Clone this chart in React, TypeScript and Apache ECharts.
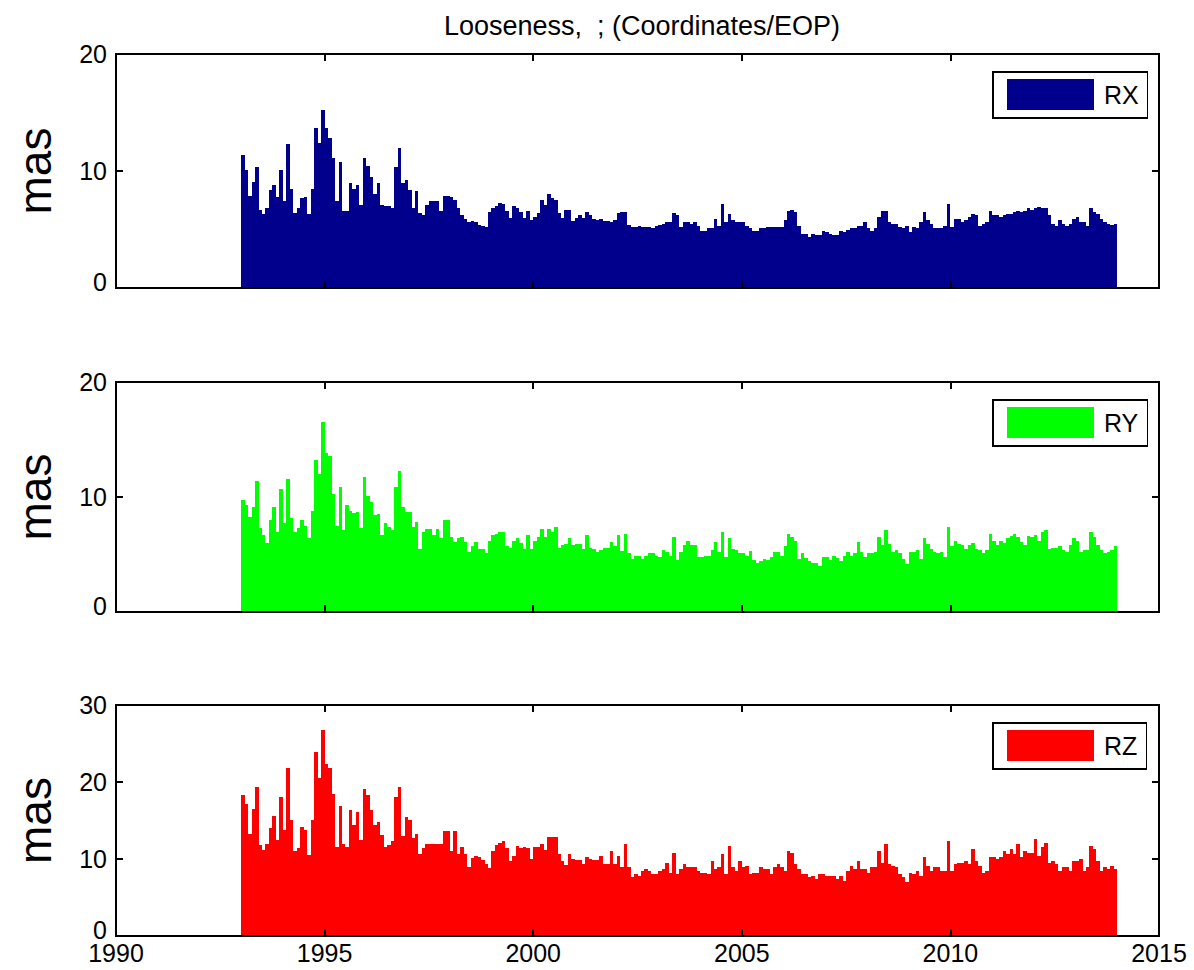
import { useEffect, useRef } from "react";
import * as echarts from "echarts";

// Monthly looseness values (mas), first bar centred in January 1993
const START_YEAR = 1993;
const STEP = 1 / 12;

const RX = [
  11.4, 10.1, 7.9, 9.1, 10.3, 6.7, 6.3, 6.8, 8.4, 8.8,
  7.8, 10.1, 7.4, 12.3, 8.5, 6.4, 6.8, 7.7, 7.8, 6.3,
  8.5, 13.7, 12.4, 15.2, 13.7, 12.8, 11.1, 7.4, 10.8, 6.6,
  6.6, 9.0, 8.5, 8.8, 7.1, 11.1, 10.4, 9.5, 8.0, 9.0,
  7.1, 7.0, 7.0, 6.8, 10.3, 12.0, 9.0, 9.2, 8.4, 6.8,
  8.3, 6.4, 6.2, 7.1, 7.4, 7.4, 7.4, 6.6, 7.9, 7.9,
  7.8, 7.5, 6.8, 6.2, 5.9, 5.6, 5.7, 5.6, 5.4, 5.3,
  5.2, 6.5, 6.8, 7.0, 7.3, 7.2, 6.6, 6.0, 7.0, 6.8,
  6.5, 6.0, 6.6, 5.8, 6.1, 6.4, 7.5, 7.1, 8.0, 7.7,
  7.5, 6.4, 6.0, 6.7, 6.7, 5.7, 6.0, 6.2, 6.0, 6.5,
  6.2, 5.9, 5.8, 5.9, 5.7, 5.7, 5.6, 5.8, 6.4,
  6.5, 6.5, 5.4, 5.2, 5.2, 5.3, 5.2, 5.2, 5.2, 5.1, 5.3,
  5.4, 5.5, 5.6, 5.6, 6.4, 6.2, 5.2, 5.6, 5.6, 5.5,
  5.6, 5.3, 4.9, 4.9, 5.1, 5.1, 5.9, 5.3, 7.2, 5.6,
  6.3, 5.8, 5.6, 5.6, 5.6, 5.3, 5.1, 4.9, 4.9, 5.1,
  5.1, 5.2, 5.2, 5.2, 5.2, 5.2, 5.8, 6.6, 6.7, 6.5,
  5.3, 4.6, 4.6, 4.4, 4.6, 4.5, 4.5, 4.9, 4.8, 4.6,
  4.5, 4.5, 4.9, 4.8, 5.0, 5.1, 5.1, 5.3, 5.3, 5.6,
  5.1, 4.9, 5.1, 6.1, 6.6, 6.6, 5.6, 5.5, 5.5, 5.2,
  5.1, 5.3, 4.8, 5.2, 5.1, 5.6, 6.5, 5.8, 5.5, 5.1,
  5.1, 5.1, 5.3, 7.2, 5.2, 5.9, 5.9, 5.6, 5.8, 6.1,
  6.3, 6.2, 5.3, 5.5, 5.6, 6.6, 6.2, 6.2, 6.1, 6.2,
  6.3, 6.3, 6.5, 6.6, 6.5, 6.6, 6.8, 6.7, 6.8, 6.9,
  6.8, 6.8, 6.2, 5.5, 5.3, 5.8, 5.5, 5.3, 5.5, 5.9,
  6.1, 5.6, 5.6, 5.3, 6.8, 6.5, 6.3, 5.9, 5.6, 5.5,
  5.4, 5.5,
];

const RY = [
  9.7, 9.3, 8.3, 9.1, 11.4, 7.3, 6.7, 6.0, 8.0, 9.1,
  7.0, 10.7, 7.7, 11.6, 8.2, 7.0, 7.3, 8.0, 7.5, 6.4,
  8.8, 13.2, 12.0, 16.5, 13.8, 13.6, 10.3, 7.5, 10.9, 7.1,
  9.3, 8.8, 8.6, 8.7, 7.3, 11.7, 10.1, 9.6, 8.4, 8.5,
  6.7, 7.7, 7.4, 7.1, 10.9, 12.3, 9.1, 8.7, 8.7, 7.4,
  7.8, 5.5, 7.0, 7.2, 7.2, 6.7, 7.2, 6.4, 8.0, 8.0,
  6.5, 6.1, 6.4, 6.5, 6.1, 5.2, 5.7, 6.1, 5.5, 5.5,
  5.1, 6.2, 6.7, 6.8, 7.0, 7.0, 5.7, 5.6, 6.2, 6.4,
  6.0, 5.5, 6.7, 5.5, 6.2, 6.5, 7.2, 6.5, 7.2, 7.0,
  7.4, 5.6, 5.8, 5.9, 6.4, 5.8, 5.9, 5.9, 5.5, 6.7,
  5.6, 5.5, 5.2, 5.4, 5.6, 5.6, 6.1, 5.7, 6.7,
  5.3, 6.8, 5.1, 4.6, 4.9, 4.9, 4.6, 4.9, 5.1, 5.1, 4.9,
  4.8, 5.4, 5.2, 4.9, 6.5, 4.5, 5.2, 5.8, 6.2, 5.8,
  5.8, 4.8, 4.8, 4.9, 4.9, 5.4, 6.1, 5.2, 7.0, 4.8,
  6.4, 5.5, 5.4, 5.1, 5.1, 4.9, 5.3, 4.5, 4.3, 4.4,
  4.6, 4.5, 4.8, 5.2, 5.2, 4.9, 5.7, 6.8, 6.5, 6.2,
  4.6, 5.1, 4.7, 4.4, 4.3, 4.3, 4.0, 4.8, 4.8, 4.5,
  4.9, 4.7, 4.4, 4.9, 5.2, 4.9, 5.1, 6.1, 5.2, 4.8,
  5.1, 5.1, 5.2, 6.5, 5.8, 7.1, 5.9, 5.2, 5.4, 5.1,
  4.6, 4.2, 5.2, 5.2, 5.4, 4.6, 6.4, 5.9, 5.5, 5.2,
  5.1, 5.2, 4.8, 7.4, 5.7, 6.2, 5.9, 5.8, 5.5, 5.8,
  6.0, 5.5, 5.4, 5.1, 5.4, 6.8, 6.2, 5.8, 6.2, 6.0,
  6.4, 6.6, 6.8, 6.5, 6.1, 5.8, 6.6, 6.5, 6.7, 6.2,
  7.0, 7.1, 5.5, 5.6, 5.6, 5.7, 5.4, 5.2, 5.8, 6.4,
  6.2, 5.2, 5.4, 5.4, 7.0, 6.5, 5.8, 5.4, 5.1, 5.2,
  5.4, 5.7,
];

const RZ = [
  18.3, 17.2, 13.3, 16.5, 19.4, 11.8, 11.2, 12.0, 14.0, 15.6,
  12.5, 18.0, 13.8, 21.8, 15.1, 11.0, 11.4, 14.2, 13.8, 10.5,
  15.1, 23.9, 20.5, 26.8, 22.4, 21.8, 18.5, 11.6, 16.9, 12.0,
  11.6, 16.4, 14.4, 16.1, 12.5, 19.1, 18.3, 16.4, 14.4, 14.8,
  13.1, 11.6, 11.8, 12.4, 18.0, 19.4, 13.0, 15.5, 15.1, 12.7,
  13.3, 10.7, 11.4, 11.9, 11.9, 11.9, 11.9, 12.0, 13.7, 13.7,
  11.0, 13.7, 10.7, 11.6, 10.7, 9.0, 10.1, 10.4, 10.3, 9.9,
  9.4, 8.8, 11.0, 11.8, 12.1, 12.3, 11.4, 9.7, 10.4, 11.7,
  11.4, 11.6, 11.4, 10.0, 11.5, 11.6, 12.0, 11.2, 12.9, 12.9,
  12.9, 10.7, 9.7, 9.2, 10.7, 10.0, 9.9, 9.9, 9.4, 10.2,
  10.0, 9.9, 9.9, 10.4, 9.4, 9.4, 11.0, 9.4, 10.4,
  8.9, 11.9, 8.9, 7.6, 8.0, 7.8, 8.4, 8.7, 8.5, 8.0, 8.0,
  8.4, 8.7, 9.5, 8.2, 10.8, 8.0, 8.7, 9.4, 8.9, 8.9,
  8.9, 8.4, 8.2, 8.2, 8.0, 9.7, 8.7, 8.9, 10.6, 8.0,
  11.7, 8.9, 8.4, 9.7, 8.9, 9.1, 8.0, 8.2, 8.2, 8.9,
  8.7, 8.7, 8.0, 8.9, 9.3, 8.9, 8.4, 11.0, 10.8, 9.3,
  8.7, 8.0, 8.0, 7.6, 7.8, 7.4, 8.0, 8.1, 7.8, 7.8,
  7.8, 7.4, 7.8, 7.1, 8.4, 9.1, 8.7, 9.7, 8.7, 8.7,
  8.2, 8.9, 8.9, 11.0, 9.5, 11.9, 9.3, 9.1, 8.9, 8.0,
  7.6, 7.0, 8.2, 8.0, 8.4, 7.8, 10.2, 9.1, 8.4, 8.9,
  8.9, 8.4, 8.4, 12.4, 8.4, 9.3, 9.5, 9.5, 9.7, 9.3,
  11.3, 9.7, 9.1, 8.2, 8.4, 10.2, 10.2, 10.0, 10.2, 11.0,
  10.6, 11.3, 10.6, 11.9, 10.2, 11.0, 10.8, 10.8, 12.6, 10.4,
  11.5, 12.1, 9.5, 9.7, 9.3, 8.4, 8.9, 8.9, 8.4, 9.7,
  9.7, 10.0, 8.4, 8.9, 11.7, 11.3, 9.7, 8.4, 8.9, 8.7,
  9.1, 8.7,
];

const SERIES_NAMES = ["RX", "RY", "RZ"];
const SERIES_VALUES = [RX, RY, RZ];
const Y_MAX = [20, 20, 30];
const X_MIN = 1990;
const X_MAX = 2015;
const TITLE = "Looseness,  ; (Coordinates/EOP)";
const Y_NAME = "mas";

const COLORS = ["#00008c", "#00ff00", "#ff0000"];
const FONT = "'Liberation Sans', Arial, Helvetica, sans-serif";

// Panel geometry (px)
const PLOT_LEFT = 116;
const PLOT_WIDTH = 1043;
const PLOT_TOPS = [54, 382, 705];
const PLOT_HEIGHTS = [234, 230, 231];

const axisLine = { show: true, onZero: false, lineStyle: { color: "#000", width: 2 } };
const axisTick = { show: true, inside: true, length: 7, lineStyle: { color: "#000", width: 1.5 } };

function buildOption(): echarts.EChartsOption {
  const grid: any[] = [];
  const xAxis: any[] = [];
  const yAxis: any[] = [];
  const series: any[] = [];
  const legend: any[] = [];

  SERIES_NAMES.forEach((name, i) => {
    grid.push({ left: PLOT_LEFT, top: PLOT_TOPS[i], width: PLOT_WIDTH, height: PLOT_HEIGHTS[i] });

    const xBase = {
      type: "value",
      gridIndex: i,
      min: X_MIN,
      max: X_MAX,
      interval: 5,
      axisLine,
      axisTick,
      splitLine: { show: false },
      z: 5,
    };
    xAxis.push({
      ...xBase,
      position: "bottom",
      axisLabel: {
        show: i === SERIES_NAMES.length - 1,
        color: "#000",
        fontSize: 25,
        lineHeight: 24,
        fontFamily: FONT,
        margin: 5,
        formatter: (v: number) => String(v),
      },
    });
    xAxis.push({ ...xBase, position: "top", axisLabel: { show: false } });

    const yBase = {
      type: "value",
      gridIndex: i,
      min: 0,
      max: Y_MAX[i],
      interval: 10,
      axisLine,
      axisTick,
      splitLine: { show: false },
      z: 5,
    };
    yAxis.push({
      ...yBase,
      position: "left",
      name: Y_NAME,
      nameLocation: "middle",
      nameRotate: 90,
      nameGap: 58,
      nameTextStyle: { color: "#000", fontSize: 46, fontFamily: FONT },
      axisLabel: {
        color: "#000",
        fontSize: 25,
        fontFamily: FONT,
        margin: 9,
        // the zero label sits a little above the baseline
        formatter: (v: number) => (v === 0 ? "{zero|0}" : String(v)),
        rich: {
          zero: { color: "#000", fontSize: 25, fontFamily: FONT, padding: [0, 0, 12, 0] },
        },
      },
    });
    yAxis.push({ ...yBase, position: "right", axisLabel: { show: false } });

    series.push({
      type: "bar",
      name,
      xAxisIndex: 2 * i,
      yAxisIndex: 2 * i,
      barWidth: "100%",
      barCategoryGap: "0%",
      itemStyle: { color: COLORS[i] },
      emphasis: { disabled: true },
      data: SERIES_VALUES[i].map((v, k) => [START_YEAR + (k + 0.5) * STEP, v]),
    });

    legend.push({
      data: [name],
      left: 993,
      top: PLOT_TOPS[i] + 18,
      orient: "vertical",
      icon: "rect",
      itemWidth: 87,
      itemHeight: 31,
      padding: [7, 9, 8, 14],
      borderColor: "#000",
      borderWidth: 1.5,
      backgroundColor: "#fff",
      selectedMode: false,
      textStyle: { color: "#000", fontSize: 25, fontFamily: FONT, padding: [0, 0, 0, 5] },
    });
  });

  return {
    animation: false,
    backgroundColor: "#fff",
    title: {
      text: TITLE,
      left: 637,
      top: 7,
      textAlign: "center",
      textStyle: { color: "#000", fontSize: 27, fontWeight: "normal", fontFamily: FONT },
    },
    grid,
    xAxis,
    yAxis,
    series,
    legend,
  } as echarts.EChartsOption;
}

export default function App() {
  const ref = useRef<HTMLDivElement>(null);

  useEffect(() => {
    if (!ref.current) return;
    const chart = echarts.init(ref.current, undefined, { renderer: "svg" });
    chart.setOption(buildOption());
    return () => chart.dispose();
  }, []);

  return (
    <>
      {/* adjacent bars share fractional edges; snap them so no hairline seams appear */}
      <style>{".looseness-chart svg path { shape-rendering: crispEdges; }"}</style>
      <div
        ref={ref}
        className="looseness-chart"
        style={{ position: "absolute", left: 0, top: 0, width: 1194, height: 970, background: "#fff" }}
      />
    </>
  );
}
